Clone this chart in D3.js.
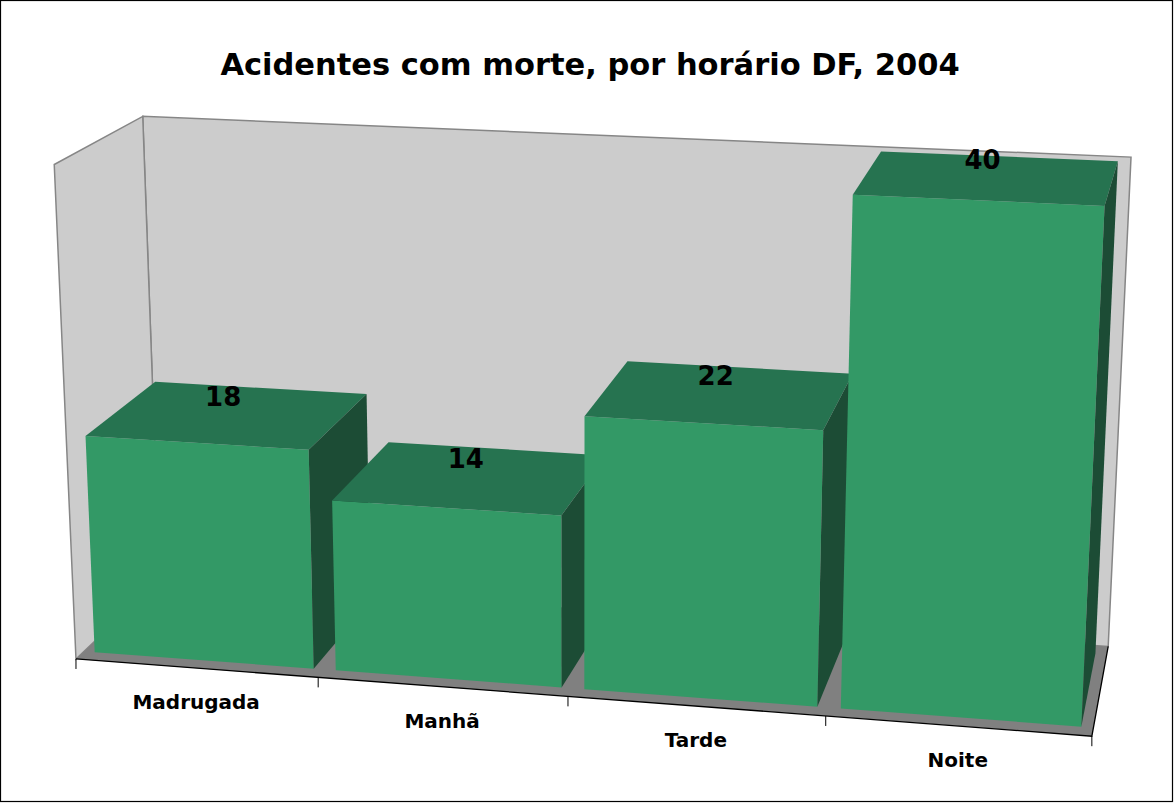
<!DOCTYPE html>
<html>
<head>
<meta charset="utf-8">
<script src="https://cdn.jsdelivr.net/npm/d3@7"></script>
<style>
  body { margin: 0; background: #fff; }
  text { font-family: "DejaVu Sans", Verdana, sans-serif; font-weight: bold; }
</style>
</head>
<body>
<div id="chart"></div>
<script>
// data
var title = "Acidentes com morte, por horário DF, 2004";
var categories = ["Madrugada", "Manhã", "Tarde", "Noite"];
var values = [18, 14, 22, 40];
var yDomain = [0, 40];

var svgWidth = 1174, svgHeight = 803;

// 3D camera (world x: category slots 0..4, y: 0..1 height, z: 0..1 depth)
var camera = [237.349, -24.002, 95.087, 75.983,
              8.102, -501.335, -37.730, 658.970,
              -0.01522, -0.04162, 0.07195, 1];

function project(p) {
  var m = camera, X = p[0], Y = p[1], Z = p[2];
  var w = m[8] * X + m[9] * Y + m[10] * Z + m[11];
  return [(m[0] * X + m[1] * Y + m[2] * Z + m[3]) / w,
          (m[4] * X + m[5] * Y + m[6] * Z + m[7]) / w];
}

var x = d3.scaleBand()
  .domain(categories)
  .range([0, categories.length])
  .paddingInner(0.09)
  .paddingOuter(0.045);

var y = d3.scaleLinear().domain(yDomain).range([0, 1]);

var zFront = 0.09, zBack = 0.91;

var line = d3.line();
function poly(pts) { return line(pts.map(project)) + "Z"; }

var svg = d3.select("#chart")
  .append("svg")
  .attr("width", svgWidth)
  .attr("height", svgHeight);

// outer border
svg.append("rect")
  .attr("x", 0.5).attr("y", 0.5)
  .attr("width", svgWidth - 2).attr("height", svgHeight - 2)
  .attr("fill", "#fff").attr("stroke", "#000").attr("stroke-width", 1.2);

// title
svg.append("text")
  .attr("x", 590).attr("y", 75)
  .attr("text-anchor", "middle")
  .attr("font-size", 30.5)
  .text(title);

var n = categories.length;

// back wall
svg.append("path")
  .attr("d", poly([[0, 0, 1], [n, 0, 1], [n, 1, 1], [0, 1, 1]]))
  .attr("fill", "#cccccc").attr("stroke", "#868686").attr("stroke-width", 1.5);

// left wall
svg.append("path")
  .attr("d", poly([[0, 0, 0], [0, 0, 1], [0, 1, 1], [0, 1, 0]]))
  .attr("fill", "#cccccc").attr("stroke", "#868686").attr("stroke-width", 1.5);

// floor
svg.append("path")
  .attr("d", poly([[0, 0, 0], [n, 0, 0], [n, 0, 1], [0, 0, 1]]))
  .attr("fill", "#808080");

// axis line along front and right edge of the floor
svg.append("path")
  .attr("d", line([[0, 0, 0], [n, 0, 0], [n, 0, 1]].map(project)))
  .attr("fill", "none").attr("stroke", "#000").attr("stroke-width", 1.3);

// ticks
d3.range(n + 1).forEach(function (i) {
  var p = project([i, 0, 0]);
  svg.append("line")
    .attr("x1", p[0]).attr("y1", p[1])
    .attr("x2", p[0]).attr("y2", p[1] + 10)
    .attr("stroke", "#000").attr("stroke-width", 1);
});

// bars, drawn left to right
var bars = svg.append("g");
categories.forEach(function (c, i) {
  var x0 = x(c), x1 = x(c) + x.bandwidth(), h = y(values[i]);
  var g = bars.append("g");
  // front
  g.append("path")
    .attr("d", poly([[x0, 0, zFront], [x1, 0, zFront], [x1, h, zFront], [x0, h, zFront]]))
    .attr("fill", "#339966");
  // top
  g.append("path")
    .attr("d", poly([[x0, h, zFront], [x1, h, zFront], [x1, h, zBack], [x0, h, zBack]]))
    .attr("fill", "#267350");
  // right side
  g.append("path")
    .attr("d", poly([[x1, 0, zFront], [x1, 0, zBack], [x1, h, zBack], [x1, h, zFront]]))
    .attr("fill", "#1c4c35");
});

// value labels
categories.forEach(function (c, i) {
  var p = project([x(c) + x.bandwidth() / 2, y(values[i]), 0.5]);
  svg.append("text")
    .attr("x", p[0] - 6).attr("y", p[1] - 9)
    .attr("text-anchor", "middle")
    .attr("font-size", 26)
    .text(values[i]);
});

// category labels
categories.forEach(function (c, i) {
  var p = project([i + 0.5, 0, 0]);
  svg.append("text")
    .attr("x", p[0]).attr("y", p[1] + 41)
    .attr("text-anchor", "middle")
    .attr("font-size", 20)
    .text(c);
});
</script>
</body>
</html>
